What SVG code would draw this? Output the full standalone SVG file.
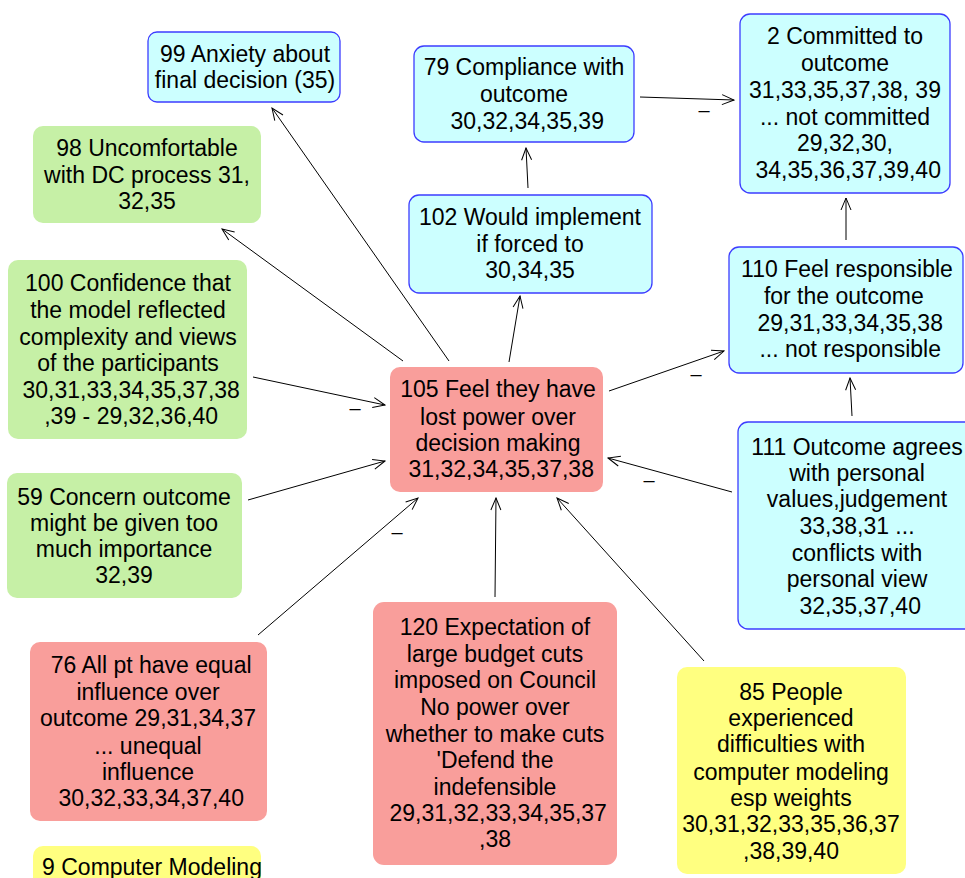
<svg xmlns="http://www.w3.org/2000/svg" width="965" height="878" viewBox="0 0 965 878">
  <defs>
    <style>
      .n text { font-family: "Liberation Sans", Arial, sans-serif; font-size: 23px; fill: #000; text-anchor: middle; white-space: pre; }
      .blue rect { fill: #ccffff; stroke: #3c3cff; stroke-width: 1.3; }
      .green rect { fill: #c6f0a6; stroke: none; }
      .red rect { fill: #f99e9b; stroke: none; }
      .yellow rect { fill: #ffff80; stroke: none; }
      .edges line { stroke: #000; stroke-width: 1; fill: none; marker-end: url(#arr); }
      .sign { font-family: "Liberation Sans", Arial, sans-serif; font-size: 20px; fill: #000; text-anchor: middle; }
    </style>
    <marker id="arr" markerWidth="14" markerHeight="12" refX="13" refY="6" orient="auto" markerUnits="userSpaceOnUse">
      <path d="M1,1 L13,6 L1,11" fill="none" stroke="#000" stroke-width="1"/>
    </marker>
  </defs>

  <rect x="0" y="0" width="965" height="878" fill="#fff"/>

  <!-- connectors -->
  <g id="edges" class="edges">
    <line x1="449" y1="361" x2="272" y2="108"/>
    <line x1="403" y1="361" x2="222" y2="229"/>
    <line x1="509" y1="362" x2="520" y2="296"/>
    <line x1="528" y1="188" x2="526" y2="148"/>
    <line x1="640" y1="97" x2="734" y2="100"/>
    <line x1="846" y1="240" x2="846" y2="198"/>
    <line x1="609" y1="391" x2="724" y2="351"/>
    <line x1="852" y1="416" x2="850" y2="378"/>
    <line x1="732" y1="492" x2="608" y2="458"/>
    <line x1="253" y1="377" x2="385" y2="405"/>
    <line x1="248" y1="500" x2="385" y2="461"/>
    <line x1="258" y1="635" x2="418" y2="498"/>
    <line x1="495" y1="597" x2="496" y2="498"/>
    <line x1="704" y1="661" x2="557" y2="498"/>
  </g>
  <g id="signs">
    <text class="sign" x="704" y="117">–</text>
    <text class="sign" x="696" y="381">–</text>
    <text class="sign" x="649" y="487">–</text>
    <text class="sign" x="355" y="415">–</text>
    <text class="sign" x="397" y="539">–</text>
  </g>

  <g id="n99" class="n blue">
    <rect x="148" y="32" width="192" height="70" rx="9"/>
    <text x="245" y="62">99 Anxiety about</text>
    <text x="245" y="88">final decision (35)</text>
  </g>

  <g id="n98" class="n green">
    <rect x="33" y="126" width="228" height="97" rx="10"/>
    <text x="147" y="156">98 Uncomfortable</text>
    <text x="147" y="183">with DC process 31,</text>
    <text x="147" y="209">32,35</text>
  </g>

  <g id="n79" class="n blue">
    <rect x="414" y="46" width="220" height="96" rx="10"/>
    <text x="524" y="75">79 Compliance with</text>
    <text x="524" y="102">outcome</text>
    <text x="524" y="129"> 30,32,34,35,39</text>
  </g>

  <g id="n2" class="n blue">
    <rect x="740" y="14" width="210" height="179" rx="10"/>
    <text x="845" y="44">2 Committed to</text>
    <text x="845" y="71">outcome</text>
    <text x="845" y="98">31,33,35,37,38, 39</text>
    <text x="845" y="125">... not committed</text>
    <text x="845" y="151">29,32,30,</text>
    <text x="845" y="178"> 34,35,36,37,39,40</text>
  </g>

  <g id="n102" class="n blue">
    <rect x="409" y="195" width="243" height="98" rx="10"/>
    <text x="530" y="225">102 Would implement</text>
    <text x="530" y="252">if forced to</text>
    <text x="530" y="278">30,34,35</text>
  </g>

  <g id="n110" class="n blue">
    <rect x="729" y="247" width="234" height="126" rx="10"/>
    <text x="847" y="277">110 Feel responsible</text>
    <text x="847" y="304">for the outcome </text>
    <text x="847" y="331"> 29,31,33,34,35,38</text>
    <text x="847" y="357"> ... not responsible</text>
  </g>

  <g id="n105" class="n red">
    <rect x="390" y="367" width="213" height="125" rx="10"/>
    <text x="498" y="397">105 Feel they have</text>
    <text x="498" y="425">lost power over</text>
    <text x="498" y="451">decision making</text>
    <text x="498" y="477"> 31,32,34,35,37,38</text>
  </g>

  <g id="n111" class="n blue">
    <rect x="738" y="422" width="238" height="207" rx="10"/>
    <text x="857" y="455">111 Outcome agrees</text>
    <text x="857" y="481">with personal</text>
    <text x="857" y="507">values,judgement</text>
    <text x="857" y="534">33,38,31 ...</text>
    <text x="857" y="561">conflicts with</text>
    <text x="857" y="587">personal view</text>
    <text x="857" y="614"> 32,35,37,40</text>
  </g>

  <g id="n100" class="n green">
    <rect x="8" y="260" width="239" height="179" rx="10"/>
    <text x="128" y="291">100 Confidence that</text>
    <text x="128" y="318">the model reflected</text>
    <text x="128" y="345">complexity and views</text>
    <text x="128" y="371">of the participants</text>
    <text x="128" y="398"> 30,31,33,34,35,37,38</text>
    <text x="128" y="424"> ,39 - 29,32,36,40</text>
  </g>

  <g id="n59" class="n green">
    <rect x="7" y="473" width="235" height="125" rx="10"/>
    <text x="124" y="505">59 Concern outcome</text>
    <text x="124" y="531">might be given too</text>
    <text x="124" y="557">much importance</text>
    <text x="124" y="583">32,39</text>
  </g>

  <g id="n76" class="n red">
    <rect x="30" y="642" width="237" height="179" rx="10"/>
    <text x="148" y="673"> 76 All pt have equal</text>
    <text x="148" y="700">influence over</text>
    <text x="148" y="726">outcome 29,31,34,37</text>
    <text x="148" y="754">... unequal</text>
    <text x="148" y="780">influence</text>
    <text x="148" y="806"> 30,32,33,34,37,40</text>
  </g>

  <g id="n9" class="n yellow">
    <rect x="33" y="846" width="228" height="60" rx="10"/>
    <text x="152" y="875">9 Computer Modeling</text>
  </g>

  <g id="n120" class="n red">
    <rect x="373" y="602" width="244" height="263" rx="11"/>
    <text x="495" y="635">120 Expectation of</text>
    <text x="495" y="662">large budget cuts</text>
    <text x="495" y="688">imposed on Council</text>
    <text x="495" y="715">No power over</text>
    <text x="495" y="742">whether to make cuts</text>
    <text x="495" y="768">'Defend the</text>
    <text x="495" y="795">indefensible</text>
    <text x="495" y="821"> 29,31,32,33,34,35,37</text>
    <text x="495" y="847">,38</text>
  </g>

  <g id="n85" class="n yellow">
    <rect x="677" y="667" width="229" height="207" rx="10"/>
    <text x="791" y="700">85 People</text>
    <text x="791" y="726">experienced</text>
    <text x="791" y="752">difficulties with</text>
    <text x="791" y="780">computer modeling</text>
    <text x="791" y="806">esp weights</text>
    <text x="791" y="832">30,31,32,33,35,36,37</text>
    <text x="791" y="859">,38,39,40</text>
  </g>
</svg>
